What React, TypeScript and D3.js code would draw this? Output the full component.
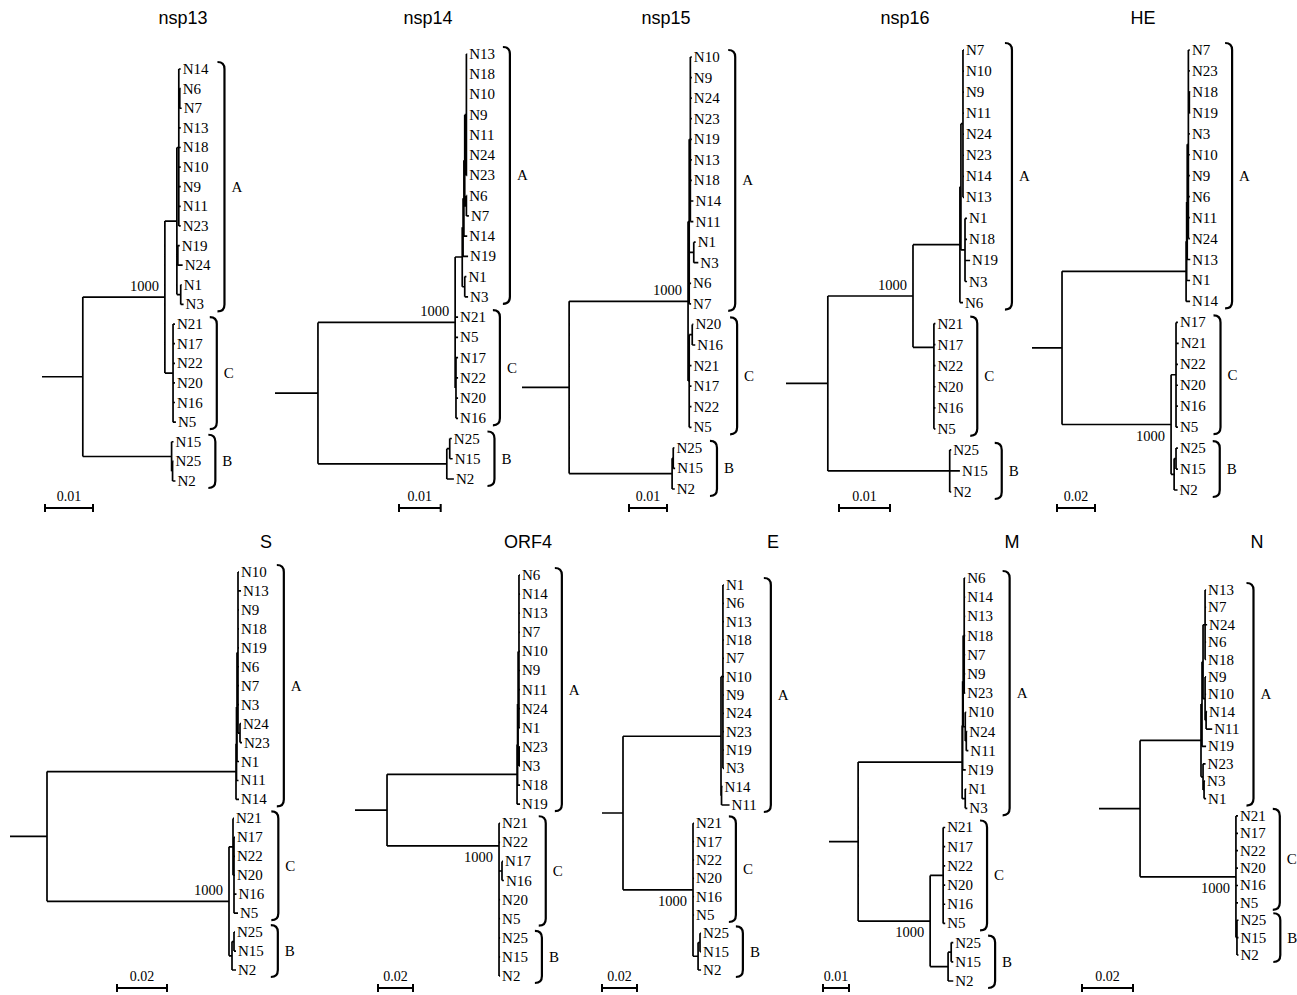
import * as d3 from 'd3';

// Trees in Newick form, branch lengths in substitutions/site; "1000" marks the bootstrap node
const NSP13 = '((((N14:0.0004,(N6:0.0002,N7:0.0004):0.0002,N13:0.0004,N18:0.0004,N10:0.0004,N9:0.0004,N11:0.0004,N23:0.0004):0.0004,(N19:0.0004,N24:0.001):0.0002,(N1:0.0002,N3:0.0006):0.0008):0.0025,(N21:0.0004,N17:0.0004,N22:0.0004,N20:0.0004,N16:0.0004,N5:0.0006):0.0017)1000:0.0171,(N15:0.0004,(N25:0.0002,N2:0.0006):0.0002):0.0185):0.0085;';
const NSP14 = '(((((((N13:0.0002,N18:0.0002,N10:0.0002,N9:0.0002,N11:0.0002,N24:0.0002,N23:0.0002):0.0004,(N6:0.0002,N7:0.0006):0.0004):0.0002,N14:0.0008):0.0002,N19:0.0012):0.0002,(N1:0.0004,N3:0.0008):0.0006):0.0017,N21:0.0007,N5:0.0007,(N17:0.0005,N22:0.0005,N20:0.0005,N16:0.0005):0.0002)1000:0.0329,((N25:0.0005,N15:0.0007):0.0007,N2:0.0017):0.0309):0.0103;';
const NSP15 = '((((N10:0.0004,N9:0.0004,N24:0.0004,N23:0.0004,N19:0.0004,N13:0.0004,N18:0.0004,N14:0.0008,N11:0.0008):0.0003,(N1:0.0005,N3:0.0012):0.0012,N6:0.0005,N7:0.0005):0.0003,((N20:0.0003,N16:0.0008):0.0008,N21:0.0006,N17:0.0006,N22:0.0006,N5:0.0006):0.0003)1000:0.0313,((N25:0.0003,N15:0.0005):0.0003,N2:0.0007):0.0271):0.0124;';
const NSP16 = '(((((N7:0.0002,N10:0.0002,N9:0.0002,N11:0.0002,N24:0.0002,N23:0.0002,N14:0.0002,N13:0.0002):0.0004,(N1:0.0004,N18:0.0004,N19:0.001,N3:0.0004):0.0008):0.0002,N6:0.0006):0.0092,(N21:0.0003,(N17:0.0003,(N22:0.0003,N20:0.0003,N16:0.0003,N5:0.0003):0):0):0.0041)1000:0.0167,(N25:0.0003,N15:0.002,N2:0.0003):0.0239):0.0082;';
const HE = '(((((N7:0.0008,N23:0.0008,(N18:0.0005,N19:0.0005):0.0005,N3:0.0008,N10:0.0008,N9:0.0008,N6:0.0008,N11:0.0008,N24:0.0008):0.0006,N13:0.0016):0.0003,N1:0.0018):0.0003,N14:0.0021):0.0653,((N17:0.001,N21:0.0014,N22:0.001,N20:0.001,N16:0.001,N5:0.001):0.0026,((N25:0.001,N15:0.001):0.001,N2:0.0018):0.0016)1000:0.0574):0.0158;';
const S = '(((((N10:0.0004,N13:0.0012,N9:0.0004,N18:0.0004,N19:0.0004,N6:0.0004,N7:0.0004,N3:0.0004,(N24:0.0004,N23:0.0008):0.0008):0.0004,N1:0.0008):0.0002,N11:0.0008):0.0002,N14:0.0012):0.0756,((N21:0.0004,(N17:0.0004,N22:0.0004,N20:0.0004,N16:0.001,N5:0.0016):0.0004):0.0016,((N25:0.0004,N15:0.0008):0.0008,N2:0.0016):0.0012)1000:0.0728):0.0148;';
const ORF4 = '(((((N6:0.0006,N14:0.0006,N13:0.0006,N7:0.0006,N10:0.0006,N9:0.0006,N11:0.0006,N24:0.0006,N1:0.0006):0.0005,(N23:0.0005,N3:0.0005):0.0006):0.0003,N18:0.0014):0.0003,N19:0.0017):0.0743,(N21:0.0006,(N22:0.0006,((N17:0.0006,N16:0.0011):0.0017,(N20:0.0006,(N5:0.0006,(N25:0.0006,N15:0.0006,N2:0.0006):0):0):0):0):0)1000:0.064):0.0183;';
const E = '(((N1:0.0006,N6:0.0006,N13:0.0006,N18:0.0006,N7:0.0006,N10:0.0006,N9:0.0006,N24:0.0006,N23:0.0006,N19:0.0006,N3:0.0006):0.0011,(N14:0.0006,N11:0.0046):0.0003):0.056,(N21:0.0006,N17:0.0006,N22:0.0006,N20:0.0006,N16:0.0006,N5:0.0006,((N25:0.0006,N15:0.0006):0.0011,N2:0.0017):0.0029)1000:0.04):0.012;';
const M = '(((((N6:0.0004,N14:0.0004,N13:0.0004,N18:0.0004,N7:0.0004,N9:0.0004,N23:0.0004):0.0004,(N10:0.0004,(N24:0.0004,N11:0.0008):0.0004):0.0008):0.0002,N19:0.0012):0.0002,(N1:0.0004,N3:0.0008):0.0012):0.04,((N21:0.0008,N17:0.0008,N22:0.0008,N20:0.0008,N16:0.0008,N5:0.0008):0.005,((N25:0.0008,N15:0.0008):0.0012,N2:0.002):0.0069)1000:0.0277):0.0112;';
const N = '(((((N13:0.0004,N7:0.0004,N24:0.0008,N6:0.0004,N18:0.0004):0.0008,(N9:0.0004,N10:0.0004,(N14:0.0004,N11:0.0024):0.0004):0.0008):0.0004,N19:0.0016):0.0004,(N23:0.001,(N3:0.0004,N1:0.0008):0.0004):0.0008):0.0239,(N21:0.0008,N17:0.0008,N22:0.0008,N20:0.0008,N16:0.0008,N5:0.0008,(N25:0.0006,N15:0.0006,N2:0.0006):0.0004)1000:0.0376):0.0161;';

const TREES = [NSP13, NSP14, NSP15, NSP16, HE, S, ORF4, E, M, N];
const TITLES = ['nsp13', 'nsp14', 'nsp15', 'nsp16', 'HE', 'S', 'ORF4', 'E', 'M', 'N'];
const SCALE_VALUES = [0.01, 0.01, 0.01, 0.01, 0.02, 0.02, 0.02, 0.02, 0.01, 0.02];

// clade membership for the brackets
const CLADE_NAMES = ['A', 'C', 'B'];
const CLADE_A = ['N1', 'N3', 'N6', 'N7', 'N9', 'N10', 'N11', 'N13', 'N14', 'N18', 'N19', 'N23', 'N24'];
const CLADE_C = ['N5', 'N16', 'N17', 'N20', 'N21', 'N22'];
const CLADE_B = ['N2', 'N15', 'N25'];
const CLADES = [CLADE_A, CLADE_C, CLADE_B];

// panel placement (pixels)
const PANELS = [
  { x0: 42, bar: 48, top: 69, bottom: 481, tx: 183, ty: 24, bx: 45, by: 508, below: false },
  { x0: 275, bar: 41.7, top: 54, bottom: 479, tx: 428, ty: 24, bx: 399, by: 508, below: false },
  { x0: 522, bar: 38, top: 57, bottom: 489, tx: 666, ty: 24, bx: 629, by: 508, below: false },
  { x0: 786, bar: 51, top: 50, bottom: 492, tx: 905, ty: 24, bx: 839, by: 508, below: false },
  { x0: 1032, bar: 38, top: 50, bottom: 490, tx: 1143, ty: 24, bx: 1057, by: 508, below: true },
  { x0: 10, bar: 50, top: 572, bottom: 970, tx: 266, ty: 548, bx: 117, by: 988, below: false },
  { x0: 355, bar: 35, top: 575, bottom: 976, tx: 528, ty: 548, bx: 378, by: 988, below: true },
  { x0: 602, bar: 35, top: 585, bottom: 970, tx: 773, ty: 548, bx: 602, by: 988, below: true },
  { x0: 829, bar: 26, top: 578, bottom: 981, tx: 1012, ty: 548, bx: 823, by: 988, below: true },
  { x0: 1099, bar: 51, top: 590, bottom: 955, tx: 1257, ty: 548, bx: 1082, by: 988, below: true },
];

const SERIF = '"Liberation Serif", "Times New Roman", serif';
const SANS = '"Liberation Sans", Arial, sans-serif';
const LEAF_FONT = 15;

type NNode = { name: string; length: number; children?: NNode[] };

function parseNewick(src: string): NNode {
  const s = src.replace(/\s+/g, '');
  let i = 0;
  const read = (): NNode => {
    const n: NNode = { name: '', length: 0 };
    if (s[i] === '(') {
      i++;
      n.children = [read()];
      while (s[i] === ',') { i++; n.children.push(read()); }
      i++;
    }
    let name = '';
    while (i < s.length && !',:();'.includes(s[i])) name += s[i++];
    n.name = name;
    if (s[i] === ':') {
      i++;
      let num = '';
      while (i < s.length && !',();'.includes(s[i])) num += s[i++];
      n.length = +num;
    }
    return n;
  };
  return read();
}

let ctx: CanvasRenderingContext2D | null = null;
function textWidth(t: string, font: string) {
  if (!ctx) ctx = document.createElement('canvas').getContext('2d');
  if (!ctx) return t.length * 7.5;
  ctx.font = font;
  return ctx.measureText(t).width;
}

function Tree({ idx }: { idx: number }) {
  const p = PANELS[idx];
  const root: any = d3.hierarchy(parseNewick(TREES[idx]));
  const leaves: any[] = root.leaves();
  const ppu = p.bar / SCALE_VALUES[idx];
  const x = d3.scaleLinear().domain([0, 1]).range([p.x0, p.x0 + ppu]);
  const y = d3.scalePoint<string>().domain(leaves.map(d => d.data.name)).range([p.top, p.bottom]);

  root.eachBefore((d: any) => { d.dist = (d.parent ? d.parent.dist : 0) + d.data.length; });
  root.eachAfter((d: any) => {
    d.py = d.children
      ? (d.children[0].py + d.children[d.children.length - 1].py) / 2
      : (y(d.data.name) as number);
  });

  const path = d3.path();
  path.moveTo(x(0), root.py);
  path.lineTo(x(root.dist), root.py);
  root.each((d: any) => {
    if (d.parent) {
      path.moveTo(x(d.parent.dist), d.py);
      path.lineTo(x(d.dist), d.py);
    }
    if (d.children) {
      path.moveTo(x(d.dist), d.children[0].py);
      path.lineTo(x(d.dist), d.children[d.children.length - 1].py);
    }
  });

  const boot: any = root.descendants().find((d: any) => d.children && d.data.name === '1000');
  const font = `${LEAF_FONT}px ${SERIF}`;

  const brackets = CLADES.map((members, ci) => {
    const ls = leaves.filter(l => members.includes(l.data.name));
    const ys = ls.map(l => l.py);
    const right = d3.max(ls, l => x(l.dist) + 2 + textWidth(l.data.name, font)) as number;
    const bxp = right + 14;
    const t = (d3.min(ys) as number) - 7;
    const b = (d3.max(ys) as number) + 7;
    const c = 7;
    const dd = `M${bxp - c},${t} Q${bxp},${t} ${bxp},${t + c} L${bxp},${b - c} Q${bxp},${b} ${bxp - c},${b}`;
    return { name: CLADE_NAMES[ci], d: dd, x: bxp, y: (t + b) / 2 };
  });

  const barScale = d3.scaleLinear().domain([0, SCALE_VALUES[idx]]).range([p.bx, p.bx + p.bar]);

  return (
    <g>
      <text x={p.tx} y={p.ty} textAnchor="middle" fontFamily={SANS} fontSize={18}>{TITLES[idx]}</text>
      <path d={path.toString()} fill="none" stroke="#000" strokeWidth={1.7} />
      {leaves.map((l: any) => (
        <text key={l.data.name} x={x(l.dist) + 2} y={l.py + 5} fontFamily={SERIF} fontSize={LEAF_FONT}>{l.data.name}</text>
      ))}
      {boot && (
        <text x={x(boot.dist) - 6} y={p.below ? boot.py + 16 : boot.py - 6} textAnchor="end" fontFamily={SERIF} fontSize={14.5}>
          {boot.data.name}
        </text>
      )}
      {brackets.map(b => (
        <g key={b.name}>
          <path d={b.d} fill="none" stroke="#000" strokeWidth={2.2} />
          <text x={b.x + 7} y={b.y + 5} fontFamily={SERIF} fontSize={15}>{b.name}</text>
        </g>
      ))}
      <path
        d={`M${barScale(0)},${p.by - 4}V${p.by + 4}M${barScale(0)},${p.by}H${barScale(SCALE_VALUES[idx])}M${barScale(SCALE_VALUES[idx])},${p.by - 4}V${p.by + 4}`}
        fill="none" stroke="#000" strokeWidth={2}
      />
      <text x={(barScale(0) + barScale(SCALE_VALUES[idx])) / 2} y={p.by - 7} textAnchor="middle" fontFamily={SERIF} fontSize={14}>
        {SCALE_VALUES[idx]}
      </text>
    </g>
  );
}

export default function App() {
  return (
    <svg width={1297} height={995} style={{ position: 'absolute', left: 0, top: 0, background: '#fff' }}>
      <rect width={1297} height={995} fill="#fff" />
      {TREES.map((_, i) => <Tree key={i} idx={i} />)}
    </svg>
  );
}
